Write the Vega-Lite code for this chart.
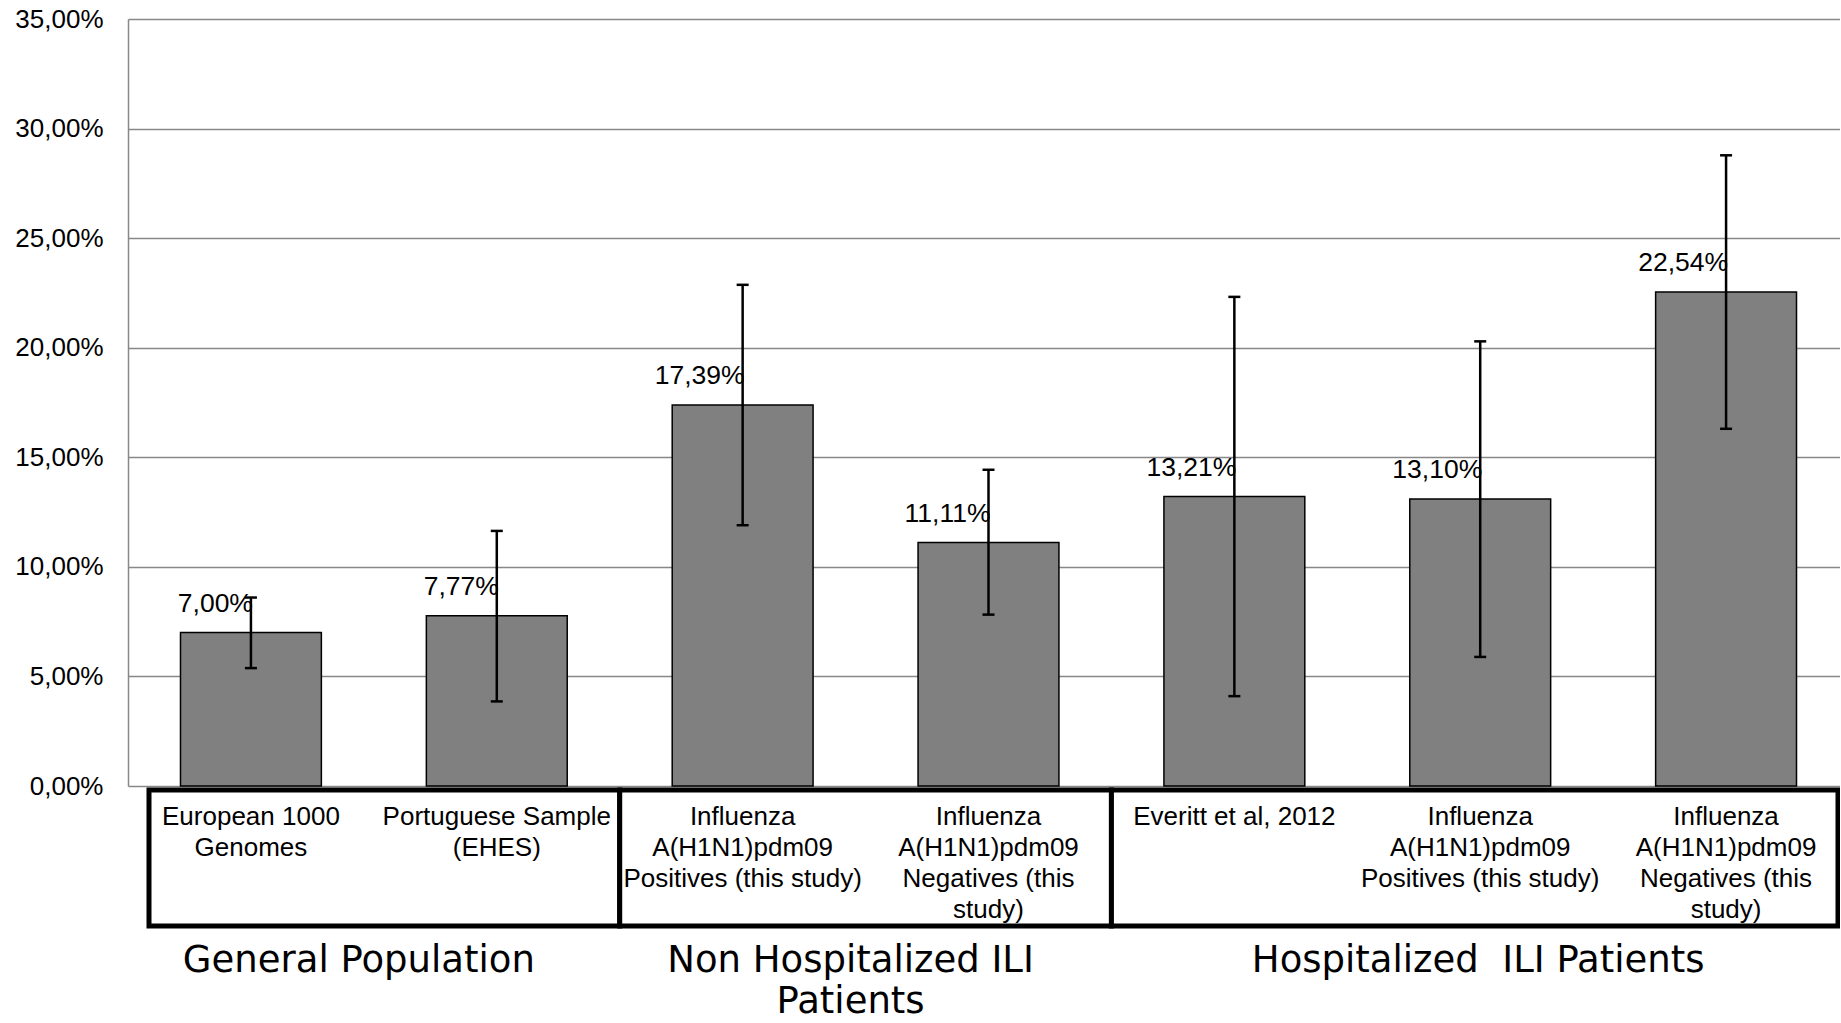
{
  "$schema": "https://vega.github.io/schema/vega-lite/v6.json",
  "width": 1712,
  "height": 767,
  "autosize": {"type": "none"},
  "padding": {"left": 128, "top": 19, "right": 0, "bottom": 237},
  "background": "white",
  "config": {"view": {"stroke": null}, "font": "Liberation Sans"},
  "datasets": {
    "bars": [
      {"k": "k1", "label": "European 1000\nGenomes", "pct": 7.00, "lo": 5.38, "hi": 8.60},
      {"k": "k2", "label": "Portuguese Sample\n(EHES)", "pct": 7.77, "lo": 3.86, "hi": 11.64},
      {"k": "k3", "label": "Influenza\nA(H1N1)pdm09\nPositives (this study)", "pct": 17.39, "lo": 11.90, "hi": 22.87},
      {"k": "k4", "label": "Influenza\nA(H1N1)pdm09\nNegatives (this\nstudy)", "pct": 11.11, "lo": 7.82, "hi": 14.43},
      {"k": "k5", "label": "Everitt et al, 2012", "pct": 13.21, "lo": 4.10, "hi": 22.32},
      {"k": "k6", "label": "Influenza\nA(H1N1)pdm09\nPositives (this study)", "pct": 13.10, "lo": 5.89, "hi": 20.29},
      {"k": "k7", "label": "Influenza\nA(H1N1)pdm09\nNegatives (this\nstudy)", "pct": 22.54, "lo": 16.30, "hi": 28.78}
    ],
    "groups": [
      {"g": "General Population", "s": "k1", "e": "k2", "a": "k1"},
      {"g": "Non Hospitalized ILI\nPatients", "s": "k3", "e": "k4", "a": "k3"},
      {"g": "Hospitalized\u00a0 ILI Patients", "s": "k5", "e": "k7", "a": "k6"}
    ]
  },
  "layer": [
    {
      "data": {"name": "bars"},
      "mark": {"type": "bar", "fill": "#808080", "stroke": "#000000", "strokeWidth": 1.5, "width": {"band": 0.573}},
      "encoding": {
        "x": {"field": "k", "type": "nominal", "axis": null, "scale": {"paddingInner": 0, "paddingOuter": 0, "range": [0, 1721]}},
        "y": {"field": "pct", "type": "quantitative", "scale": {"domain": [0, 35], "nice": false},
          "axis": {"values": [0, 5, 10, 15, 20, 25, 30, 35], "labelExpr": "replace(format(datum.value, '.2f'), '.', ',') + '%'", "title": null, "grid": true, "gridColor": "#888888", "gridWidth": 1.5, "domainColor": "#888888", "domainWidth": 1.5, "ticks": false, "labelPadding": 25, "labelFontSize": 26, "labelColor": "#000000", "labelFont": "Liberation Sans"}}
      }
    },
    {
      "data": {"name": "bars"},
      "mark": {"type": "rule", "stroke": "#000000", "strokeWidth": 2.5},
      "encoding": {
        "x": {"field": "k", "type": "nominal", "axis": null},
        "y": {"field": "lo", "type": "quantitative",
          "axis": {"values": [0, 5, 10, 15, 20, 25, 30, 35], "labelExpr": "replace(format(datum.value, '.2f'), '.', ',') + '%'", "title": null, "grid": true, "gridColor": "#888888", "gridWidth": 1.5, "domainColor": "#888888", "domainWidth": 1.5, "ticks": false, "labelPadding": 25, "labelFontSize": 26, "labelColor": "#000000", "labelFont": "Liberation Sans"}},
        "y2": {"field": "hi"}
      }
    },
    {
      "data": {"name": "bars"},
      "mark": {"type": "tick", "orient": "horizontal", "color": "#000000", "size": 12, "thickness": 2.5, "opacity": 1},
      "encoding": {
        "x": {"field": "k", "type": "nominal", "axis": null},
        "y": {"field": "lo", "type": "quantitative",
          "axis": {"values": [0, 5, 10, 15, 20, 25, 30, 35], "labelExpr": "replace(format(datum.value, '.2f'), '.', ',') + '%'", "title": null, "grid": true, "gridColor": "#888888", "gridWidth": 1.5, "domainColor": "#888888", "domainWidth": 1.5, "ticks": false, "labelPadding": 25, "labelFontSize": 26, "labelColor": "#000000", "labelFont": "Liberation Sans"}}
      }
    },
    {
      "data": {"name": "bars"},
      "mark": {"type": "tick", "orient": "horizontal", "color": "#000000", "size": 12, "thickness": 2.5, "opacity": 1},
      "encoding": {
        "x": {"field": "k", "type": "nominal", "axis": null},
        "y": {"field": "hi", "type": "quantitative",
          "axis": {"values": [0, 5, 10, 15, 20, 25, 30, 35], "labelExpr": "replace(format(datum.value, '.2f'), '.', ',') + '%'", "title": null, "grid": true, "gridColor": "#888888", "gridWidth": 1.5, "domainColor": "#888888", "domainWidth": 1.5, "ticks": false, "labelPadding": 25, "labelFontSize": 26, "labelColor": "#000000", "labelFont": "Liberation Sans"}}
      }
    },
    {
      "data": {"name": "bars"},
      "transform": [{"calculate": "replace(format(datum.pct, '.2f'), '.', ',') + '%'", "as": "txt"}],
      "mark": {"type": "text", "align": "right", "baseline": "alphabetic", "dx": 2, "dy": -21, "fontSize": 26.5, "font": "Liberation Sans", "color": "#000000"},
      "encoding": {
        "x": {"field": "k", "type": "nominal", "axis": null},
        "y": {"field": "pct", "type": "quantitative",
          "axis": {"values": [0, 5, 10, 15, 20, 25, 30, 35], "labelExpr": "replace(format(datum.value, '.2f'), '.', ',') + '%'", "title": null, "grid": true, "gridColor": "#888888", "gridWidth": 1.5, "domainColor": "#888888", "domainWidth": 1.5, "ticks": false, "labelPadding": 25, "labelFontSize": 26, "labelColor": "#000000", "labelFont": "Liberation Sans"}},
        "text": {"field": "txt"}
      }
    },
    {
      "data": {"name": "groups"},
      "transform": [{"filter": "datum.s == 'k1'"}],
      "mark": {"type": "rect", "fill": "#ffffff", "stroke": "#000000", "strokeWidth": 5, "xOffset": 21, "yOffset": 4, "y2Offset": 140},
      "encoding": {
        "x": {"field": "s", "type": "nominal", "bandPosition": 0, "axis": null},
        "x2": {"field": "e", "bandPosition": 1},
        "y": {"datum": 0, "type": "quantitative"},
        "y2": {"datum": 0}
      }
    },
    {
      "data": {"name": "groups"},
      "transform": [{"filter": "datum.s == 'k3'"}],
      "mark": {"type": "rect", "fill": "#ffffff", "stroke": "#000000", "strokeWidth": 5, "yOffset": 4, "y2Offset": 140},
      "encoding": {
        "x": {"field": "s", "type": "nominal", "bandPosition": 0, "axis": null},
        "x2": {"field": "e", "bandPosition": 1},
        "y": {"datum": 0, "type": "quantitative"},
        "y2": {"datum": 0}
      }
    },
    {
      "data": {"name": "groups"},
      "transform": [{"filter": "datum.s == 'k5'"}],
      "mark": {"type": "rect", "fill": "#ffffff", "stroke": "#000000", "strokeWidth": 5, "x2Offset": -11, "yOffset": 4, "y2Offset": 140},
      "encoding": {
        "x": {"field": "s", "type": "nominal", "bandPosition": 0, "axis": null},
        "x2": {"field": "e", "bandPosition": 1},
        "y": {"datum": 0, "type": "quantitative"},
        "y2": {"datum": 0}
      }
    },
    {
      "data": {"name": "bars"},
      "mark": {"type": "text", "align": "center", "baseline": "alphabetic", "dy": 39.4, "fontSize": 26, "lineHeight": 31, "lineBreak": "\n", "font": "Liberation Sans", "color": "#000000"},
      "encoding": {
        "x": {"field": "k", "type": "nominal", "axis": null},
        "y": {"datum": 0, "type": "quantitative"},
        "text": {"field": "label"}
      }
    },
    {
      "data": {"name": "groups"},
      "transform": [{"filter": "datum.a != 'k6'"}],
      "mark": {"type": "text", "align": "center", "baseline": "alphabetic", "dx": -15, "dy": 186, "fontSize": 37, "lineHeight": 41, "lineBreak": "\n", "font": "DejaVu Sans", "color": "#000000"},
      "encoding": {
        "x": {"field": "a", "type": "nominal", "bandPosition": 1, "axis": null},
        "y": {"datum": 0, "type": "quantitative"},
        "text": {"field": "g"}
      }
    },
    {
      "data": {"name": "groups"},
      "transform": [{"filter": "datum.a == 'k6'"}],
      "mark": {"type": "text", "align": "center", "baseline": "alphabetic", "dx": -2, "dy": 186, "fontSize": 37, "lineHeight": 41, "lineBreak": "\n", "font": "DejaVu Sans", "color": "#000000"},
      "encoding": {
        "x": {"field": "a", "type": "nominal", "bandPosition": 0.5, "axis": null},
        "y": {"datum": 0, "type": "quantitative"},
        "text": {"field": "g"}
      }
    }
  ]
}
